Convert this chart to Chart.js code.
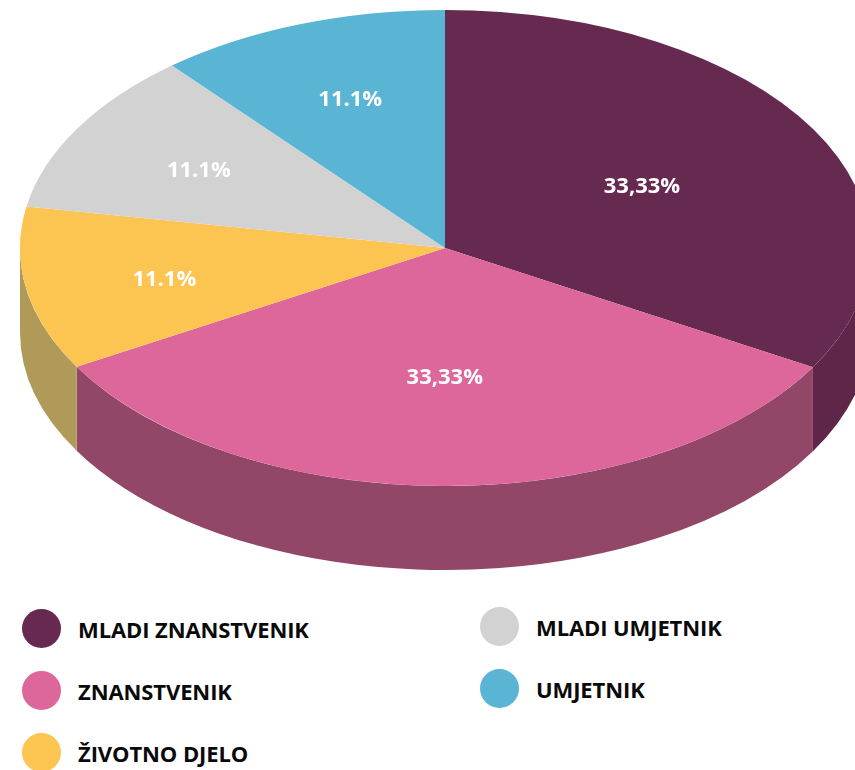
<!DOCTYPE html>
<html>
<head>
<meta charset="utf-8">
<script src="https://cdn.jsdelivr.net/npm/chart.js@4/dist/chart.umd.min.js"></script>
<style>
  body { margin: 0; background: #fff; width: 855px; height: 770px; overflow: hidden; position: relative; }
  #c { position: absolute; left: 0; top: 0; }
  .leg { position: absolute; display: flex; align-items: center; font-family: "Open Sans", sans-serif; font-weight: 700; font-size: 22px; letter-spacing: -0.1px; color: #0a0a0a; }
  .leg i { display: inline-block; width: 39px; height: 39px; border-radius: 50%; margin-right: 17px; }
</style>
</head>
<body>
<canvas id="c" width="855" height="590"></canvas>
<div id="legend"></div>
<script>
// data
var categories = ['MLADI ZNANSTVENIK', 'ZNANSTVENIK', 'ŽIVOTNO DJELO', 'MLADI UMJETNIK', 'UMJETNIK']
var values = [33.33, 33.33, 11.1, 11.1, 11.1]
var valueLabels = ['33,33%', '33,33%', '11.1%', '11.1%', '11.1%']

// styles
var colors = ['#66294f', '#dd669b', '#fcc451', '#d2d2d2', '#5ab4d3']
var sideColors = ['#5f264a', '#934768', '#b09a5a', '#a8a8a8', '#4a94ad']
var squash = 0.56
var depth = 84

var pie3d = {
    id: 'pie3d',
    beforeDatasetsDraw: function(chart) {
        var ctx = chart.ctx
        var arcs = chart.getDatasetMeta(0).data
        var cx = arcs[0].x, cy = arcs[0].y, r = arcs[0].outerRadius
        // outer side wall, only the front half shows
        arcs.forEach(function(a, i) {
            var lo = Math.max(a.startAngle, 0)
            var hi = Math.min(a.endAngle, Math.PI)
            if (lo >= hi) return
            ctx.beginPath()
            ctx.ellipse(cx, cy, r, r * squash, 0, lo, hi, false)
            ctx.ellipse(cx, cy + depth, r, r * squash, 0, hi, lo, true)
            ctx.closePath()
            ctx.fillStyle = sideColors[i]
            ctx.fill()
        })
        ctx.save()
        ctx.translate(cx, cy)
        ctx.scale(1, squash)
        ctx.translate(-cx, -cy)
    },
    afterDatasetsDraw: function(chart) {
        var ctx = chart.ctx
        ctx.restore()
        var arcs = chart.getDatasetMeta(0).data
        ctx.save()
        ctx.font = 'bold 22px "Open Sans", sans-serif'
        ctx.fillStyle = '#fff'
        ctx.textAlign = 'center'
        ctx.textBaseline = 'middle'
        arcs.forEach(function(a, i) {
            var mid = (a.startAngle + a.endAngle) / 2
            var small = (a.endAngle - a.startAngle) < 1
            var f = small ? 0.68 : 0.535
            var px = a.x + Math.cos(mid) * a.outerRadius * f
            var py = a.y + Math.sin(mid) * a.outerRadius * f * squash
            if (small) { px += 4; py += 2 }
            ctx.fillText(valueLabels[i], px, py + 2)
        })
        ctx.restore()
    }
}

var chart = new Chart(document.getElementById('c'), {
    type: 'pie',
    data: {
        labels: categories,
        datasets: [{
            data: values,
            backgroundColor: colors,
            borderWidth: 0,
            radius: 425,
            clip: false
        }]
    },
    options: {
        responsive: false,
        animation: false,
        events: [],
        layout: { padding: { left: 35, right: 0, top: 0, bottom: 94 } },
        plugins: { legend: { display: false }, tooltip: { enabled: false } }
    },
    plugins: [pie3d]
})

// legend, two columns
var legendPos = [[22, 609], [22, 671], [22, 733], [480, 607], [480, 669]]
var legend = document.getElementById('legend')
categories.forEach(function(name, i) {
    var d = document.createElement('div')
    d.className = 'leg'
    d.style.left = legendPos[i][0] + 'px'
    d.style.top = legendPos[i][1] + 'px'
    d.innerHTML = '<i style="background:' + colors[i] + '"></i><span></span>'
    d.querySelector('span').textContent = name
    legend.appendChild(d)
})
</script>
</body>
</html>
